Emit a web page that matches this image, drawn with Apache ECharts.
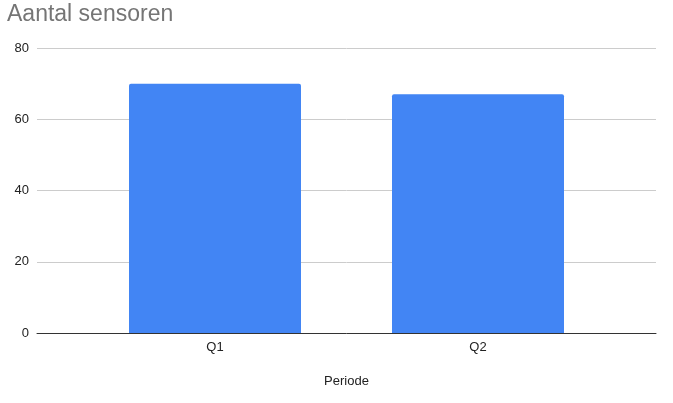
<!DOCTYPE html>
<html><head><meta charset="utf-8">
<script src="https://cdn.jsdelivr.net/npm/echarts@6/dist/echarts.min.js"></script>
<style>html,body{margin:0;padding:0;background:#fff}#c{width:673px;height:403px}</style>
</head><body><div id="c"></div>
<script>
const categories = ['Q1', 'Q2'];
const values = [70, 67];
const yTicks = [0, 20, 40, 60, 80];

const chart = echarts.init(document.getElementById('c'));
const font = '"Liberation Sans", Arial, sans-serif';
chart.setOption({
  animation: false,
  title: {
    text: 'Aantal sensoren', left: 7, top: 3, padding: 0,
    textStyle: { color: '#757575', fontSize: 23, fontWeight: 'normal', fontFamily: font }
  },
  grid: [
    { left: 37, right: 17, top: 48, bottom: 70 },
    { left: 83.5, right: 63.5, top: 48, bottom: 70 }
  ],
  xAxis: [
    { gridIndex: 0, type: 'category', data: [''], axisLine: { show: true, lineStyle: { color: '#333', width: 1 } },
      axisTick: { show: false }, axisLabel: { show: false }, splitLine: { show: false } },
    { gridIndex: 1, type: 'category', data: categories, axisLine: { show: false }, axisTick: { show: false },
      axisLabel: { color: '#222', fontSize: 13, fontFamily: font, margin: 8 },
      name: 'Periode', nameLocation: 'middle', nameGap: 42,
      nameTextStyle: { color: '#222', fontSize: 13, fontFamily: font } }
  ],
  yAxis: [
    { gridIndex: 0, type: 'value', min: yTicks[0], max: yTicks[yTicks.length - 1], interval: 20,
      axisLine: { show: false }, axisTick: { show: false },
      axisLabel: { color: '#222', fontSize: 13, fontFamily: font, margin: 8 },
      splitLine: { lineStyle: { color: '#cccccc', width: 1 } } },
    { gridIndex: 1, type: 'value', min: yTicks[0], max: yTicks[yTicks.length - 1], interval: 20,
      show: false, splitLine: { show: false } }
  ],
  series: [{
    type: 'bar', xAxisIndex: 1, yAxisIndex: 1, data: values, barWidth: '65.4%',
    itemStyle: { color: '#4285f4', borderRadius: [2, 2, 0, 0] }
  }]
});
</script></body></html>
